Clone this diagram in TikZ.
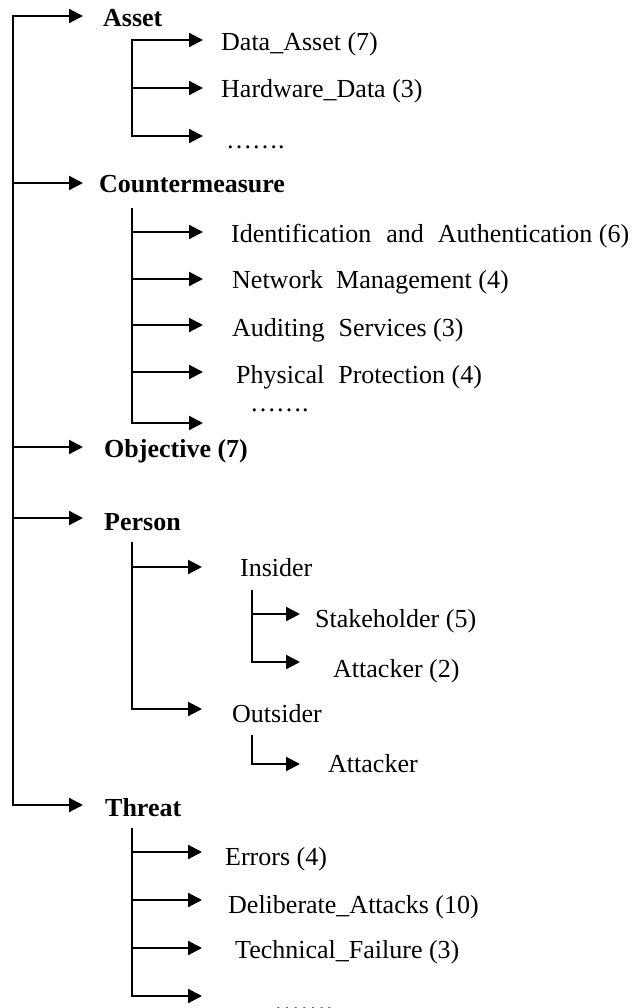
\documentclass[tikz,border=0pt]{standalone}
\usepackage{fontspec}
\setmainfont{Liberation Serif}
\usetikzlibrary{arrows.meta}
\begin{document}
\begin{tikzpicture}[x=1pt,y=-1pt,
  arr/.style={line width=2.2pt,-{Triangle[length=14pt,width=14pt]}},
  arrtwo/.style={line width=2.2pt,{Triangle[length=14pt,width=14pt]}-{Triangle[length=14pt,width=14pt]}},
  lbl/.style={anchor=base west,inner sep=0pt,font=\fontsize{26}{30}\selectfont},
  head/.style={anchor=base west,inner sep=0pt,font=\fontsize{26}{30}\selectfont\bfseries}]
\useasboundingbox (0,0) rectangle (635,1008);

% ---------- labels ----------
\node[head] (asset) at (103,27) {Asset};
\node[lbl] (dataasset) at (221,51) {Data\_Asset (7)};
\node[lbl] (hardware) at (221,98) {Hardware\_Data (3)};
\node[lbl] (dotsA) at (226,148.5) {…….};

\node[head] (counter) at (99,193) {Countermeasure};
\node[lbl] (ident) at (231,242) {Identification\hspace{15pt}and\hspace{14pt}Authentication (6)};
\node[lbl] (network) at (232,288) {Network\hspace{13pt}Management (4)};
\node[lbl] (audit) at (232,336) {Auditing\hspace{14pt}Services (3)};
\node[lbl] (physical) at (236,383) {Physical\hspace{14pt}Protection (4)};
\node[lbl] (dotsC) at (250,411.5) {…….};

\node[head] (objective) at (104,457) {Objective (7)};

\node[head] (person) at (104,530) {Person};
\node[lbl] (insider) at (240,576) {Insider};
\node[lbl] (stake) at (315,627) {Stakeholder (5)};
\node[lbl] (attackerA) at (333,677) {Attacker (2)};
\node[lbl] (outsider) at (232,722) {Outsider};
\node[lbl] (attackerB) at (328,772) {Attacker};

\node[head] (threat) at (105,816) {Threat};
\node[lbl] (errors) at (225,865) {Errors (4)};
\node[lbl] (delib) at (228,913) {Deliberate\_Attacks (10)};
\node[lbl] (tech) at (235,958) {Technical\_Failure (3)};
\node[lbl] (dotsT) at (274,1010) {…….};

% ---------- main trunk ----------
\coordinate (m0) at (13,16);
\coordinate (mEnd) at (13,805);
\coordinate (tA) at (83,16);
\coordinate (tC) at (83,183);
\coordinate (tO) at (83,447);
\coordinate (tP) at (83,518);
\coordinate (tT) at (83,805);
\draw[arrtwo] (tA) -| (mEnd) -- (tT);
\draw[arr] (tC -| m0) -- (tC);
\draw[arr] (tO -| m0) -- (tO);
\draw[arr] (tP -| m0) -- (tP);

% ---------- Asset subtree ----------
\coordinate (aBot) at (132,136);
\coordinate (a1) at (203,40);
\coordinate (a2) at (203,88);
\coordinate (a3) at (203,136);
\draw[arrtwo] (a1) -| (aBot) -- (a3);
\draw[arr] (a2 -| aBot) -- (a2);

% ---------- Countermeasure subtree ----------
\coordinate (cTop) at (132,208);
\coordinate (cBot) at (132,423);
\coordinate (c1) at (203,232);
\coordinate (c2) at (203,279);
\coordinate (c3) at (203,325);
\coordinate (c4) at (203,372);
\coordinate (c5) at (203,423);
\draw[arr] (cTop) -- (cBot) -- (c5);
\foreach \c in {c1,c2,c3,c4} \draw[arr] (\c -| cTop) -- (\c);

% ---------- Person subtree ----------
\coordinate (pTop) at (132,542);
\coordinate (pBot) at (132,709);
\coordinate (p1) at (202,567);
\coordinate (p2) at (202,709);
\draw[arr] (pTop) -- (pBot) -- (p2);
\draw[arr] (p1 -| pTop) -- (p1);

\coordinate (iTop) at (252,590);
\coordinate (iBot) at (252,662);
\coordinate (i1) at (300,614);
\coordinate (i2) at (300,662);
\draw[arr] (iTop) -- (iBot) -- (i2);
\draw[arr] (i1 -| iTop) -- (i1);

\coordinate (oTop) at (252,735);
\coordinate (oBot) at (252,764);
\coordinate (o1) at (300,764);
\draw[arr] (oTop) -- (oBot) -- (o1);

% ---------- Threat subtree ----------
\coordinate (hTop) at (132,828);
\coordinate (hBot) at (132,996);
\coordinate (h1) at (202,852);
\coordinate (h2) at (202,900);
\coordinate (h3) at (202,948);
\coordinate (h4) at (202,996);
\draw[arr] (hTop) -- (hBot) -- (h4);
\foreach \h in {h1,h2,h3} \draw[arr] (\h -| hTop) -- (\h);
\end{tikzpicture}
\end{document}
